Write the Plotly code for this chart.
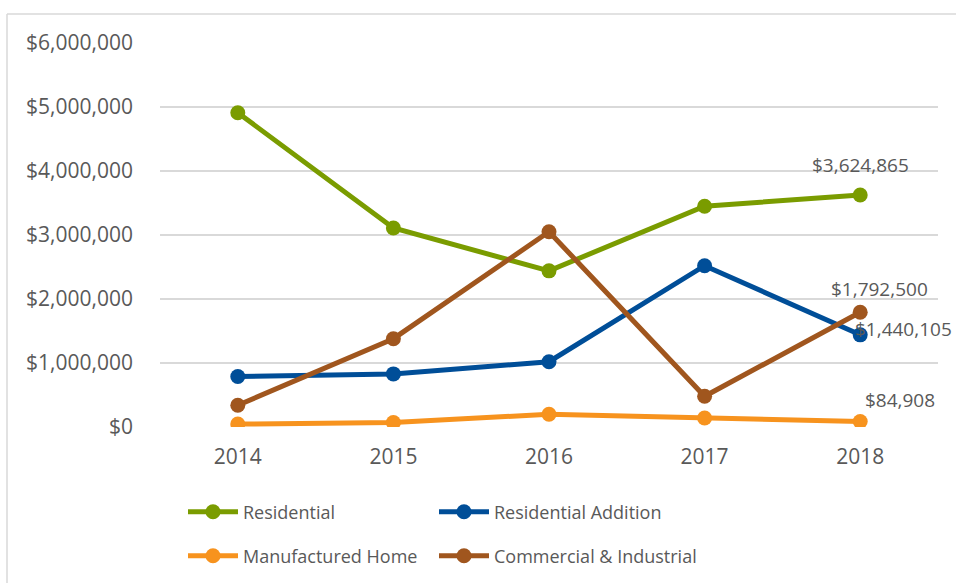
import plotly.graph_objects as go

years = ["2014", "2015", "2016", "2017", "2018"]
residential = [4910000, 3110000, 2440000, 3450000, 3624865]
res_addition = [790000, 830000, 1020000, 2520000, 1440105]
manufactured = [45000, 70000, 200000, 140000, 84908]
commercial = [340000, 1380000, 3050000, 480000, 1792500]

series = [
    ("Residential", residential, "#7A9C00", "legend"),
    ("Residential Addition", res_addition, "#004E98", "legend2"),
    ("Manufactured Home", manufactured, "#F7931E", "legend3"),
    ("Commercial & Industrial", commercial, "#A0561E", "legend4"),
]

font_family = "Open Sans"
txt_color = "#595959"

fig = go.Figure()
for name, vals, color, lg in series:
    fig.add_trace(go.Scatter(
        x=years, y=vals, name=name, mode="lines+markers",
        line=dict(color=color, width=5),
        marker=dict(color=color, size=15),
        legend=lg,
    ))

def fmt(v):
    return "${:,}".format(v)

last_idx = len(years) - 1
labels = [
    (residential, 0, 30),
    (commercial, 19, 23),
    (res_addition, 43, 6),
    (manufactured, 40, 22),
]
for vals, dx, dy in labels:
    fig.add_annotation(x=last_idx, y=vals[last_idx], xref="x", yref="y",
                       text=fmt(vals[last_idx]),
                       showarrow=False, xshift=dx, yshift=dy,
                       font=dict(family=font_family, size=19, color=txt_color))

W, H = 956, 583
L, R, T, B = 160, 18, 43, 156
pw, ph = W - L - R, H - T - B

def px2paper_x(px):
    return (px - L) / pw

def px2paper_y(py):
    return (H - B - py) / ph

# outer border (left and top)
fig.add_shape(type="line", xref="paper", yref="paper",
              x0=px2paper_x(7), x1=px2paper_x(7), y0=px2paper_y(14), y1=px2paper_y(600),
              line=dict(color="#D9D9D9", width=1.5))
fig.add_shape(type="line", xref="paper", yref="paper",
              x0=px2paper_x(7), x1=px2paper_x(960), y0=px2paper_y(14), y1=px2paper_y(14),
              line=dict(color="#D9D9D9", width=1.5))

def leg(px, py):
    return dict(orientation="v", x=px2paper_x(px), y=px2paper_y(py), yanchor="middle",
                xanchor="left", font=dict(size=18, color=txt_color), itemwidth=50,
                bgcolor="rgba(0,0,0,0)")

fig.update_layout(
    width=W, height=H,
    margin=dict(l=L, r=R, t=T, b=B, autoexpand=False),
    paper_bgcolor="white", plot_bgcolor="white",
    font=dict(family=font_family, size=21, color=txt_color),
    xaxis=dict(type="category", range=[-0.5, 4.5], showgrid=False, zeroline=False,
               showline=False, ticks="", ticklabelstandoff=15,
               tickfont=dict(size=21, color=txt_color)),
    yaxis=dict(range=[0, 6000000], dtick=1000000, tickformat="$,.0f",
               showgrid=True, gridcolor="#D9D9D9", gridwidth=1.5,
               zeroline=False, showline=False, ticks="", ticklabelstandoff=26,
               tickfont=dict(size=21, color=txt_color)),
    legend=leg(183, 512),
    legend2=leg(434, 512),
    legend3=leg(183, 556),
    legend4=leg(434, 556),
    showlegend=True,
)

fig.write_html("out.html", post_script="document.body.style.margin='0';",
               config={"displayModeBar": False})
